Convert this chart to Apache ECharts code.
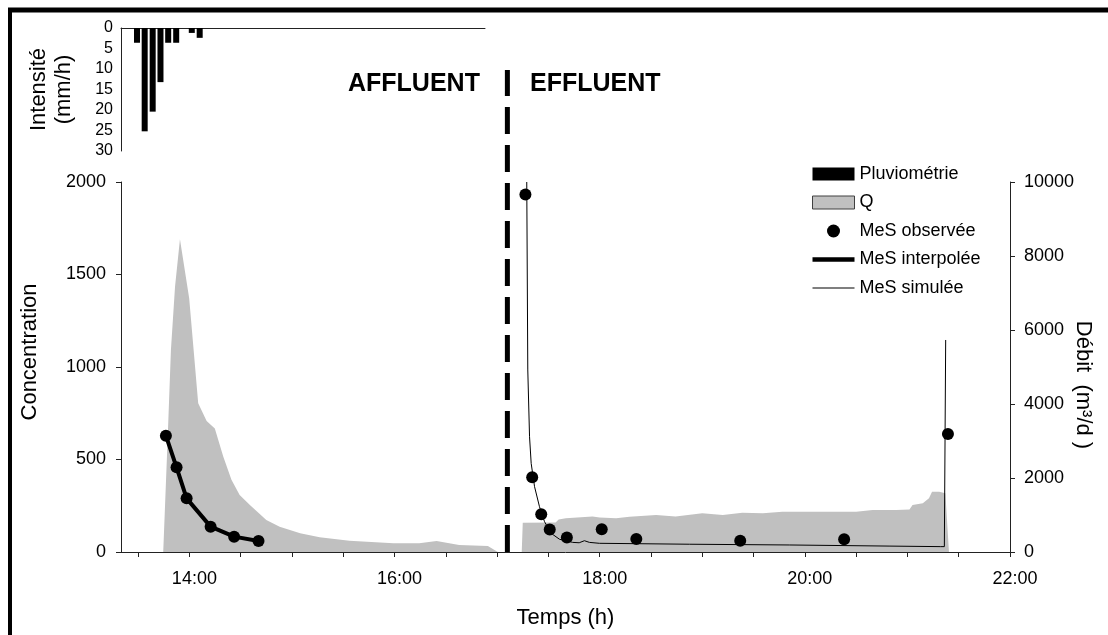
<!DOCTYPE html>
<html><head><meta charset="utf-8">
<script src="https://cdn.jsdelivr.net/npm/echarts@6/dist/echarts.min.js"></script>
<style>html,body{margin:0;padding:0;background:#fff}#c{width:1108px;height:635px}</style>
</head><body><div id="c"></div>
<script>
const FONT = '"Liberation Sans", Arial, sans-serif';

// Rainfall intensity (mm/h), time in decimal hours
const rainTimes  = [13.489, 13.564, 13.642, 13.718, 13.793, 13.871, 14.023, 14.100];
const rainValues = [3.6, 25.2, 20.4, 13.2, 3.6, 3.6, 1.2, 2.4];

// Flow Q (m3/d): influent then effluent
const qTimes  = [13.745, 13.79, 13.82, 13.86, 13.908, 13.998, 14.086, 14.168, 14.248, 14.33, 14.41, 14.49, 14.59, 14.75, 14.88, 15.08, 15.27, 15.56, 15.99, 16.24, 16.41, 16.63, 16.91, 17.007,
                 17.24, 17.25, 17.57, 17.60, 17.67, 17.93, 18.00, 18.16, 18.29, 18.55, 18.74, 19.00, 19.20, 19.39, 19.59, 19.78, 20.17, 20.50, 20.66, 20.89, 21.02, 21.05, 21.15, 21.21, 21.24, 21.31, 21.37, 21.405];
const qValues = [0, 3200, 5460, 7170, 8450, 6860, 4020, 3540, 3340, 2580, 1950, 1540, 1270, 865, 685, 505, 396, 306, 234, 234, 297, 189, 162, 0,
                 0, 790, 795, 880, 910, 960, 930, 910, 955, 1000, 960, 1045, 1000, 1060, 1045, 1090, 1090, 1090, 1135, 1135, 1150, 1270, 1316, 1450, 1630, 1630, 1590, 0];

// Observed suspended solids (MeS, mg/L)
const obsTimes  = [13.771, 13.875, 13.973, 14.207, 14.436, 14.674, 17.276, 17.342, 17.43, 17.513, 17.68, 18.02, 18.357, 19.37, 20.383, 21.395];
const obsValues = [629, 458, 290, 137, 83, 59, 1933, 404, 204, 121, 79, 123, 70, 61, 69, 638];

// Interpolated influent MeS
const interpTimes  = [13.771, 13.875, 13.973, 14.207, 14.436, 14.674];
const interpValues = [629, 458, 290, 137, 83, 59];

// Simulated effluent MeS
const simTimes  = [17.289, 17.299, 17.316, 17.332, 17.365, 17.413, 17.462, 17.527, 17.608, 17.737, 17.80, 17.851, 17.90, 17.997, 18.874, 19.848, 20.821, 21.325, 21.36, 21.373];
const simValues = [2000, 984, 623, 479, 353, 245, 164, 101, 69, 52, 50, 61, 52, 47, 42, 38, 32, 29, 29, 1146];

// Axis ticks
const timeLabelValues = [14, 16, 18, 20, 22];
const timeTickValues  = [13.5, 14, 14.5, 15, 15.5, 16, 16.5, 17, 17.5, 18, 18.5, 19, 19.5, 20, 20.5, 21, 21.5, 22];
const splitTime = 17.10;

const zip = (a, b) => a.map((v, i) => [v, b[i]]);
const black = '#000';
const axisLineStyle = { lineStyle: { color: '#222', width: 1 } };
const plain = v => String(v);

const chart = echarts.init(document.getElementById('c'), null, { renderer: 'canvas' });
chart.setOption({
  animation: false,
  backgroundColor: '#fff',
  textStyle: { fontFamily: FONT, color: black },
  grid: [
    { left: 121, right: 98, top: 182, bottom: 83, containLabel: false, outerBoundsMode: 'none' },
    { left: 121, right: 623, top: 28, height: 123, containLabel: false, outerBoundsMode: 'none' },
    { left: 121, right: 98, top: 70, bottom: 83, containLabel: false, outerBoundsMode: 'none' }
  ],
  legend: {
    orient: 'vertical', left: 807, top: 160,
    itemWidth: 42, itemHeight: 13, itemGap: 10.5,
    textStyle: { fontSize: 18, color: black, fontFamily: FONT },
    data: [
      { name: 'Pluviométrie', icon: 'rect', itemStyle: { color: black } },
      { name: 'Q', icon: 'rect', itemStyle: { color: '#c0c0c0', borderColor: '#404040', borderWidth: 1 } },
      { name: 'MeS observée', icon: 'circle' },
      { name: 'MeS interpolée', icon: 'path://M0,0 L42,0 L42,4.5 L0,4.5 Z', itemStyle: { color: black } },
      { name: 'MeS simulée', icon: 'path://M0,0 L42,0 L42,1 L0,1 Z', itemStyle: { color: black } }
    ]
  },
  xAxis: [
    {
      gridIndex: 0, type: 'value', min: 13.3333, max: 22,
      axisLine: axisLineStyle,
      axisTick: { customValues: timeTickValues, length: 5, lineStyle: { color: '#222' } },
      axisLabel: { customValues: timeLabelValues, formatter: v => v + ':00', fontSize: 18, color: black, margin: 18, padding: [0, 0, 0, 10], fontFamily: FONT },
      splitLine: { show: false },
      name: 'Temps (h)', nameLocation: 'middle', nameGap: 55, nameMoveOverlap: false,
      nameTextStyle: { fontSize: 22, color: black, fontFamily: FONT }
    },
    {
      gridIndex: 1, type: 'value', min: 13.3333, max: 16.88,
      axisLine: { onZero: true, lineStyle: { color: '#222', width: 1 } },
      axisTick: { show: false }, axisLabel: { show: false }, splitLine: { show: false }
    },
    { gridIndex: 2, type: 'value', min: 13.3333, max: 22, show: false }
  ],
  yAxis: [
    {
      gridIndex: 0, type: 'value', min: 0, max: 2000, interval: 500, position: 'left',
      axisLine: { show: true, lineStyle: { color: '#222', width: 1 } },
      axisTick: { show: true, length: 5, lineStyle: { color: '#222' } },
      axisLabel: { fontSize: 18, color: black, margin: 15, fontFamily: FONT, formatter: plain },
      splitLine: { show: false },
      name: 'Concentration', nameLocation: 'middle', nameGap: 80, nameRotate: 90, nameMoveOverlap: false,
      nameTextStyle: { fontSize: 22, color: black, fontFamily: FONT, padding: [0, 0, 0, 30] }
    },
    {
      gridIndex: 0, type: 'value', min: 0, max: 10000, interval: 2000, position: 'right',
      axisLine: { show: true, lineStyle: { color: '#222', width: 1 } },
      axisTick: { show: true, length: 5, lineStyle: { color: '#222' } },
      axisLabel: { fontSize: 18, color: black, margin: 14, fontFamily: FONT, formatter: plain },
      splitLine: { show: false },
      name: 'Débit  (m³/d )', nameLocation: 'middle', nameGap: 62, nameRotate: -90, nameMoveOverlap: false,
      nameTextStyle: { fontSize: 22, color: black, fontFamily: FONT, padding: [0, 0, 0, 36] }
    },
    {
      gridIndex: 1, type: 'value', min: 0, max: 30, interval: 5, inverse: true,
      axisLine: { show: true, lineStyle: { color: '#222', width: 1 } },
      axisTick: { show: false },
      axisLabel: { fontSize: 16, color: black, margin: 8, fontFamily: FONT, formatter: plain },
      splitLine: { show: false },
      name: 'Intensité\n(mm/h)', nameLocation: 'middle', nameGap: 45, nameRotate: 90, nameMoveOverlap: false,
      nameTextStyle: { fontSize: 22, lineHeight: 25, color: black, fontFamily: FONT }
    },
    { gridIndex: 2, type: 'value', min: 0, max: 1, show: false }
  ],
  series: [
    {
      name: 'Pluviométrie', type: 'bar', xAxisIndex: 1, yAxisIndex: 2,
      data: zip(rainTimes, rainValues), barWidth: 6, itemStyle: { color: black }
    },
    {
      name: 'Q', type: 'line', xAxisIndex: 0, yAxisIndex: 1,
      data: zip(qTimes, qValues), showSymbol: false, symbol: 'none',
      color: '#c0c0c0',
      lineStyle: { width: 0, color: '#c0c0c0' },
      areaStyle: { color: '#c0c0c0', opacity: 1 }, z: 1
    },
    {
      name: 'MeS interpolée', type: 'line', xAxisIndex: 0, yAxisIndex: 0,
      data: zip(interpTimes, interpValues), symbol: 'none',
      color: black, lineStyle: { width: 4, color: black }, z: 3
    },
    {
      name: 'MeS simulée', type: 'line', xAxisIndex: 0, yAxisIndex: 0,
      data: zip(simTimes, simValues), symbol: 'none',
      color: black, lineStyle: { width: 1, color: black }, z: 3
    },
    {
      name: 'MeS observée', type: 'scatter', xAxisIndex: 0, yAxisIndex: 0,
      data: zip(obsTimes, obsValues), symbol: 'circle', symbolSize: 12,
      itemStyle: { color: black, opacity: 1 }, z: 4
    },
    {
      name: 'séparation', type: 'line', xAxisIndex: 2, yAxisIndex: 3,
      data: [[splitTime, 0], [splitTime, 1]], symbol: 'none', silent: true,
      lineStyle: { color: black, width: 5, type: [27, 11] }, z: 5
    }
  ],
  graphic: [
    { type: 'line', shape: { x1: 10, y1: 8, x2: 10, y2: 635 }, style: { stroke: black, lineWidth: 4 } },
    { type: 'line', shape: { x1: 8, y1: 10, x2: 1108, y2: 10 }, style: { stroke: black, lineWidth: 5 } },
    { type: 'text', left: 348, top: 72, style: { text: 'AFFLUENT', font: 'bold 25px ' + FONT, fill: black } },
    { type: 'text', left: 530, top: 72, style: { text: 'EFFLUENT', font: 'bold 25px ' + FONT, fill: black } }
  ]
});
</script>
</body></html>
